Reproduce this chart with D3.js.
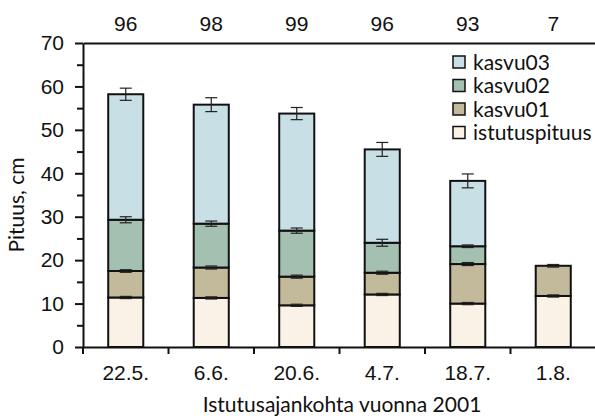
<!DOCTYPE html>
<html>
<head>
<meta charset="utf-8">
<script src="https://cdn.jsdelivr.net/npm/d3@7"></script>
<style>
  body { margin: 0; background: #fff; }
  svg { display: block; font-family: Lato, "Open Sans", sans-serif; }
</style>
</head>
<body>
<svg id="chart" width="595" height="418"></svg>
<script>
const dates = ["22.5.", "6.6.", "20.6.", "4.7.", "18.7.", "1.8."];
const counts = [96, 98, 99, 96, 93, 7];
const seriesNames = ["istutuspituus", "kasvu01", "kasvu02", "kasvu03"];
// segment heights (cm)
const istutuspituus = [11.4, 11.3, 9.6, 12.1, 10.0, 11.75];
const kasvu01 = [6.1, 7.0, 6.6, 5.0, 9.1, 6.95];
const kasvu02 = [11.8, 10.1, 10.6, 6.9, 4.1, 0];
const kasvu03 = [28.9, 27.4, 26.95, 21.5, 15.05, 0];
// error bar half-lengths at each segment top
const err0 = [0.25, 0.25, 0.25, 0.25, 0.25, 0.25];
const err1 = [0.3, 0.35, 0.35, 0.35, 0.35, 0.3];
const err2 = [0.7, 0.6, 0.6, 0.8, 0.3, 0];
const err3 = [1.4, 1.6, 1.4, 1.6, 1.6, 0];
const yTicks = [0, 10, 20, 30, 40, 50, 60, 70];

const colors = {
    istutuspituus: "#faf2e6",
    kasvu01: "#c3b99b",
    kasvu02: "#a3c0b1",
    kasvu03: "#c8e0e5"
};

const svg = d3.select("#chart");
const area = { left: 83, right: 596, top: 43, bottom: 347 };

const rows = dates.map((d, i) => ({
    date: d,
    istutuspituus: istutuspituus[i],
    kasvu01: kasvu01[i],
    kasvu02: kasvu02[i],
    kasvu03: kasvu03[i]
}));
const errs = [err0, err1, err2, err3];

const scX = d3.scaleBand().domain(dates).range([area.left, area.right]).paddingInner(0.59).paddingOuter(0.295);
const band = d3.scaleBand().domain(dates).range([area.left, area.right]);
const scY = d3.scaleLinear().domain([0, 70]).range([area.bottom, area.top]);

const stack = d3.stack().keys(seriesNames)(rows);

stack.forEach(layer => {
    svg.append("g")
        .selectAll("rect")
        .data(layer.filter(d => d[1] - d[0] > 0))
        .enter()
        .append("rect")
        .attr("x", d => scX(d.data.date))
        .attr("y", d => scY(d[1]))
        .attr("width", scX.bandwidth())
        .attr("height", d => scY(d[0]) - scY(d[1]))
        .attr("fill", colors[layer.key])
        .attr("stroke", "#111")
        .attr("stroke-width", 2);
});

// error bars
stack.forEach((layer, si) => {
    const g = svg.append("g").attr("stroke", "#222").attr("stroke-width", 1.2);
    layer.forEach((d, i) => {
        const e = errs[si][i];
        if (!(d[1] - d[0] > 0) || e === 0) return;
        const cx = scX(d.data.date) + scX.bandwidth() / 2;
        const y1 = scY(d[1] + e), y2 = scY(d[1] - e);
        g.append("line").attr("x1", cx).attr("x2", cx).attr("y1", y1).attr("y2", y2);
        g.append("line").attr("x1", cx - 6).attr("x2", cx + 6).attr("y1", y1).attr("y2", y1);
        g.append("line").attr("x1", cx - 6).attr("x2", cx + 6).attr("y1", y2).attr("y2", y2);
    });
});

// y axis
svg.append("g")
    .attr("transform", `translate(${area.left},0)`)
    .call(d3.axisLeft(scY).tickValues(yTicks).tickSize(8).tickPadding(11).tickSizeOuter(0));
svg.append("g")
    .attr("transform", `translate(${area.left},0)`)
    .call(d3.axisLeft(scY).tickValues(d3.range(5, 70, 10)).tickSize(6).tickFormat("").tickSizeOuter(0))
    .call(g => g.select(".domain").remove());

// x axis
svg.append("g")
    .attr("transform", `translate(0,${area.bottom})`)
    .call(d3.axisBottom(band).tickSize(0).tickPadding(18).tickSizeOuter(0));
svg.append("g")
    .attr("transform", `translate(0,${area.bottom})`)
    .selectAll("line")
    .data(dates)
    .enter()
    .append("line")
    .attr("x1", d => band(d)).attr("x2", d => band(d))
    .attr("y1", 0).attr("y2", 7)
    .attr("stroke", "#111").attr("stroke-width", 2);

// top axis with counts
svg.append("g")
    .attr("transform", `translate(0,${area.top})`)
    .call(d3.axisTop(band).tickSize(0).tickPadding(12).tickSizeOuter(0).tickFormat((d, i) => counts[i]));

svg.selectAll(".domain").attr("stroke", "#111").attr("stroke-width", 2);
svg.selectAll(".tick line").attr("stroke", "#111").attr("stroke-width", 2);
svg.selectAll(".tick text").attr("fill", "#111").style("font-size", "21px");

// titles
svg.append("text")
    .attr("x", 342).attr("y", 412)
    .attr("text-anchor", "middle")
    .style("font-size", "21px")
    .attr("fill", "#111")
    .text("Istutusajankohta vuonna 2001");
svg.append("text")
    .attr("transform", "translate(24,205) rotate(-90)")
    .attr("text-anchor", "middle")
    .style("font-size", "21px")
    .attr("fill", "#111")
    .text("Pituus, cm");

// legend
const legendItems = seriesNames.slice().reverse();
const leg = svg.append("g").attr("transform", "translate(453,56)");
legendItems.forEach((name, i) => {
    const row = leg.append("g").attr("transform", `translate(0,${i * 23.5})`);
    row.append("rect").attr("width", 12).attr("height", 12)
        .attr("fill", colors[name]).attr("stroke", "#111").attr("stroke-width", 1.5);
    row.append("text").attr("x", 20).attr("y", 6).attr("dy", "0.36em")
        .style("font-size", "21px").attr("fill", "#111").text(name);
});
</script>
</body>
</html>
